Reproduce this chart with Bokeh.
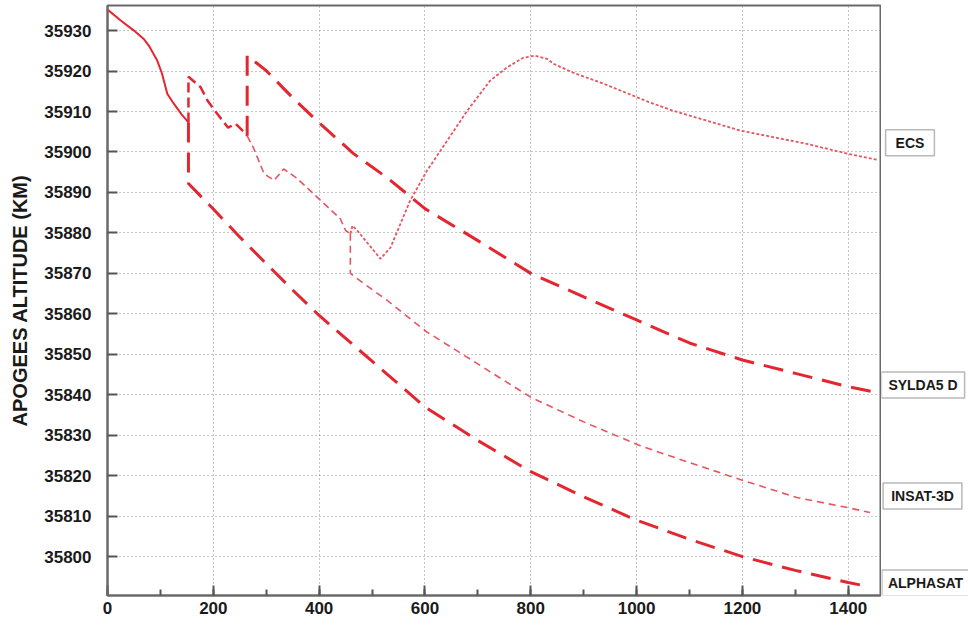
from bokeh.plotting import figure
from bokeh.models import SingleIntervalTicker, Range1d, Label
from bokeh.layouts import row
from bokeh.embed import file_html
from bokeh.resources import INLINE

# ---- data (days, apogee altitude km) ----
common_t = [0, 25, 50, 68, 78, 94, 103, 113, 125, 140, 153]
common_alt = [35935.2, 35932.5, 35930.0, 35928.0, 35926.3, 35922.6, 35919.4, 35914.4, 35912.0, 35909.3, 35907.3]

alphasat_t = [153, 153, 200, 250, 300, 350, 400, 500, 600, 700, 800, 900, 1000, 1100, 1200, 1300, 1400, 1423]
alphasat_alt = [35907.3, 35892.2, 35885.9, 35879.0, 35872.4, 35865.9, 35859.6, 35848.3, 35837.0, 35828.7,
                35821.0, 35814.8, 35809.0, 35804.3, 35800.0, 35796.6, 35793.6, 35793.0]

shared_upper_t = [153, 153, 176, 189, 207, 228, 242, 261, 264]
shared_upper_alt = [35907.3, 35918.6, 35916.0, 35912.7, 35909.5, 35906.0, 35907.0, 35904.5, 35904.0]

sylda_t = [264, 264, 300, 350, 400, 465, 530, 600, 700, 800, 900, 1000, 1100, 1200, 1300, 1400, 1457]
sylda_alt = [35904.0, 35923.8, 35920.1, 35913.4, 35907.2, 35899.6, 35893.5, 35886.0, 35878.1, 35870.0,
             35864.2, 35858.5, 35852.8, 35848.6, 35845.3, 35842.0, 35840.5]

shared_lower_t = [264, 276, 296, 315, 333, 359, 403, 440, 450, 459]
shared_lower_alt = [35904.0, 35901.0, 35894.6, 35893.0, 35895.8, 35893.4, 35888.0, 35883.5, 35880.6, 35879.8]

insat_t = [459, 459, 484, 529, 567, 604, 699, 801, 907, 1007, 1101, 1202, 1303, 1400, 1441]
insat_alt = [35879.8, 35870.0, 35867.5, 35863.3, 35859.3, 35855.5, 35847.7, 35839.3, 35832.9, 35827.4,
             35823.2, 35818.8, 35814.6, 35812.1, 35810.9]

ecs_t = [459, 463, 472, 516, 535, 572, 604, 642, 680, 723, 755, 786, 808, 831, 843, 880, 937, 1026,
         1069, 1196, 1322, 1398, 1457]
ecs_alt = [35879.8, 35881.8, 35880.6, 35873.6, 35876.4, 35888.0, 35895.4, 35902.8, 35910.2, 35917.6,
           35920.9, 35923.3, 35923.8, 35923.0, 35921.8, 35919.6, 35916.9, 35912.2, 35910.2, 35905.3,
           35902.0, 35899.6, 35898.0]

labels = ["ECS", "SYLDA5 D", "INSAT-3D", "ALPHASAT"]

FONT = "Liberation Sans"
RED = "#e3262f"
RED_LIGHT = "#e65560"

p = figure(width=881, height=625, output_backend="svg", toolbar_location=None,
           x_range=Range1d(0, 1461), y_range=Range1d(35790.4, 35936.2),
           min_border_left=107, min_border_right=1, min_border_top=5, min_border_bottom=30)
p.background_fill_color = "white"
p.border_fill_color = "white"
p.outline_line_color = "#6a6a6a"
p.outline_line_width = 2

# axes
p.xaxis.ticker = SingleIntervalTicker(interval=200, num_minor_ticks=2)
p.yaxis.ticker = SingleIntervalTicker(interval=10, num_minor_ticks=0)
for ax in (p.xaxis[0], p.yaxis[0]):
    ax.axis_line_color = "#6a6a6a"
    ax.axis_line_width = 2
    ax.major_tick_line_color = "#555555"
    ax.major_tick_line_width = 2
    ax.major_tick_in = 10
    ax.major_tick_out = 0
    ax.minor_tick_line_color = "#555555"
    ax.minor_tick_line_width = 2
    ax.minor_tick_in = 6
    ax.minor_tick_out = 0
    ax.major_label_text_font = FONT
    ax.major_label_text_font_style = "bold"
    ax.major_label_text_font_size = "17px"
    ax.major_label_text_color = "#1a1a1a"
p.xaxis.major_label_standoff = 6
p.yaxis.major_label_standoff = 16
p.yaxis.axis_label = "APOGEES ALTITUDE (KM)"
p.yaxis.axis_label_text_font = FONT
p.yaxis.axis_label_text_font_style = "bold"
p.yaxis.axis_label_text_font_size = "20px"
p.yaxis.axis_label_text_color = "#1a1a1a"
p.yaxis.axis_label_standoff = 10

# grid
p.xgrid.grid_line_color = "#8a8a8a"
p.xgrid.grid_line_dash = "1 3"
p.xgrid.grid_line_width = 1
p.ygrid.grid_line_color = "#8a8a8a"
p.ygrid.grid_line_dash = "1 3"
p.ygrid.grid_line_width = 1

# lines
p.line(common_t, common_alt, line_color=RED, line_width=2)
p.line(alphasat_t, alphasat_alt, line_color=RED, line_width=3, line_dash="20 10")
p.line(shared_upper_t, shared_upper_alt, line_color=RED, line_width=2.5, line_dash="10 5")
p.line(sylda_t, sylda_alt, line_color=RED, line_width=3, line_dash="20 10")
p.line(shared_lower_t, shared_lower_alt, line_color=RED_LIGHT, line_width=1.6, line_dash="7 4")
p.line(insat_t, insat_alt, line_color=RED_LIGHT, line_width=1.6, line_dash="7 5")
p.line(ecs_t, ecs_alt, line_color=RED_LIGHT, line_width=1.8, line_dash="3 2")

# side panel holding the end labels (its frame is aligned with the main frame)
lab = figure(width=87, height=625, output_backend="svg", toolbar_location=None,
             x_range=Range1d(0, 87), y_range=p.y_range,
             x_axis_location=None, y_axis_location=None,
             min_border_left=0, min_border_right=0, min_border_top=5, min_border_bottom=30)
lab.grid.visible = False
lab.outline_line_color = None
lab.background_fill_color = "white"
lab.border_fill_color = "white"

label_pos = [(28.5, 35902.3), (41.5, 35842.4), (41.0, 35815.0), (44.0, 35793.5)]
label_pad = [(10, 5), (7, 5), (8, 5), (6, 5)]
for txt, (lx, ly), pad in zip(labels, label_pos, label_pad):
    lab.add_layout(Label(x=lx, y=ly, text=txt, text_align="center", text_baseline="middle",
                         text_font=FONT, text_font_style="bold", text_font_size="14px",
                         text_color="#1a1a1a", background_fill_color="white",
                         border_line_color="#b8b8b8", border_line_width=1.5, padding=pad))

layout = row(p, lab)
open("out.html", "w").write(file_html(layout, INLINE))
